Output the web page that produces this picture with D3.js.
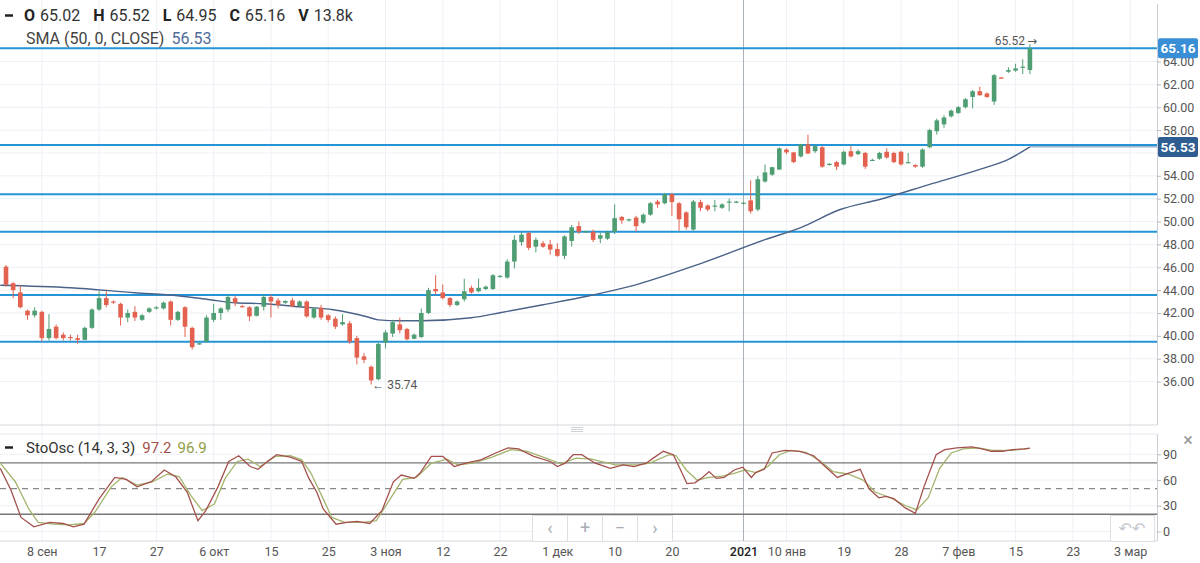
<!DOCTYPE html>
<html><head><meta charset="utf-8">
<script src="https://cdn.jsdelivr.net/npm/d3@7/dist/d3.min.js"></script>
<style>
html,body{margin:0;padding:0;background:#fff;}
svg{display:block;font-family:Roboto,"Open Sans",sans-serif;}
</style></head>
<body>
<svg id="c" width="1200" height="563"></svg>
<script>
// ---- DATA ----
const opens = [46.05,44.6,43.8,42.2,41.8,42.1,39.8,40.8,40.1,39.9,39.8,39.65,40.7,42.3,43.3,43.0,42.8,41.6,42.1,41.4,42.1,42.4,42.4,43.0,41.4,42.5,40.7,39.3,39.5,
41.4,42.0,42.3,43.3,42.6,42.5,41.75,42.55,43.4,43.1,42.9,43.1,42.6,43.0,41.6,42.45,41.8,41.5,41.0,41.1,39.8,38.2,37.3,36.2,39.4,40.2,41.0,40.6,39.75,
39.9,42.0,44.1,43.8,43.3,42.7,43.2,44.2,43.9,44.1,44.1,45.2,45.1,46.5,48.2,49.0,47.8,48.1,48.0,47.6,47.0,48.3,49.6,49.1,49.1,48.5,48.5,49.1,50.4,
50.1,50.35,49.9,50.6,51.75,51.6,52.4,51.6,50.8,49.3,51.7,51.4,51.3,51.2,51.65,51.7,51.6,51.85,51.05,53.5,54.1,54.55,56.3,56.05,55.7,56.75,56.15,56.5,55.0,55.2,
55.0,56.15,55.9,56.0,55.35,55.5,56.1,56.0,56.1,55.15,54.95,54.8,56.5,57.9,58.5,59.2,59.5,60.0,60.9,61.4,61.2,60.5,62.6,63.1,63.2,63.45,63.25];
const closes = [44.47,44.0,42.5,41.8,42.2,39.8,40.6,39.8,39.8,39.8,39.65,40.7,42.3,43.3,42.7,42.9,41.6,42.0,41.6,41.8,42.4,42.5,42.9,41.4,42.1,40.8,39.0,39.35,41.6,
42.0,42.4,43.4,42.9,42.55,41.7,42.55,43.4,43.0,42.7,43.05,42.6,43.0,41.7,42.4,41.6,41.4,40.8,41.2,39.5,38.1,37.9,36.1,39.3,40.3,41.2,40.5,39.7,40.1,
42.0,44.0,43.9,43.3,42.7,43.0,43.9,43.8,44.2,44.3,45.3,45.25,46.5,48.4,48.85,47.7,48.4,47.8,47.55,47.0,48.7,49.5,49.1,49.15,48.4,48.8,49.1,50.3,50.1,
50.2,49.6,50.6,51.6,51.5,52.4,51.7,50.2,49.5,51.75,51.2,51.05,51.4,51.5,51.75,51.75,51.65,50.9,53.7,54.3,54.75,56.4,56.05,55.2,56.75,55.95,56.6,54.8,55.05,54.8,
56.1,55.7,56.15,54.8,55.4,56.0,55.6,55.2,55.0,55.2,54.8,56.3,58.0,58.85,59.1,59.7,60.0,60.7,61.4,61.05,60.9,62.8,62.55,63.25,63.4,63.55,65.16];
const highs = [46.2,44.7,44.4,42.3,42.5,42.2,41.9,41.0,40.3,40.1,40.1,40.8,42.4,43.9,43.9,43.1,42.9,42.3,42.6,41.9,42.5,42.6,43.0,43.1,42.2,42.6,40.8,39.4,41.8,
42.8,42.5,43.6,43.5,42.7,42.6,42.6,43.6,43.6,43.3,43.1,43.3,43.1,43.1,42.45,42.7,41.9,41.7,41.9,41.3,40.0,38.5,37.4,39.4,40.5,41.4,41.6,40.7,40.2,
42.4,44.2,45.3,44.5,43.4,43.1,45.0,44.4,45.0,44.4,45.4,45.3,46.7,48.8,49.1,49.1,48.6,48.3,48.4,48.1,48.8,49.7,50.0,49.2,49.3,49.0,49.2,51.5,50.5,
50.25,50.5,50.7,51.7,51.9,52.5,52.5,51.7,50.9,51.9,51.9,51.5,51.9,51.6,52.0,51.8,51.7,53.6,54.0,55.0,54.8,56.5,56.4,56.1,56.8,57.6,56.7,56.6,55.1,55.3,
56.2,56.6,56.3,56.1,55.5,56.1,56.4,56.1,56.2,56.0,55.0,56.4,58.1,59.0,59.3,59.8,60.1,60.8,61.5,61.8,61.3,62.9,62.65,63.5,63.8,64.2,65.52];
const lows = [44.3,43.3,42.4,41.4,41.6,39.5,39.6,39.7,39.6,39.6,39.3,39.6,40.6,42.2,42.5,42.8,40.9,41.2,41.3,41.3,42.0,42.3,42.3,40.9,41.3,39.9,38.8,39.2,39.4,
41.2,41.4,42.1,42.6,42.5,41.3,41.7,42.2,41.6,42.4,42.8,42.5,42.5,41.6,41.5,41.4,41.2,40.6,40.9,39.3,37.5,37.6,35.74,36.1,38.9,39.9,40.2,39.6,39.7,
39.8,41.9,43.6,43.2,42.5,42.6,43.0,43.7,43.8,44.0,44.0,45.1,45.0,45.9,47.9,47.5,47.3,47.7,47.1,46.9,46.7,47.8,48.9,49.0,48.2,48.1,48.4,48.9,49.8,
50.0,49.1,49.8,50.5,51.2,51.5,50.5,49.2,49.3,49.2,50.9,50.9,50.9,51.1,50.9,51.6,51.5,50.7,50.9,53.4,54.0,54.5,55.9,55.1,55.6,55.9,56.0,54.7,54.9,54.5,
54.9,55.6,55.8,54.6,55.3,55.4,55.5,55.1,54.9,55.1,54.7,54.7,56.4,57.6,58.2,59.1,59.4,59.9,59.9,61.0,60.8,60.2,62.5,63.0,63.1,62.9,62.9];

// SMA(50): bar position / value
const smaIdx = [-0.8,9,18,24,28.5,32,36,41,45.7,48,50.4,52,55,58,65,69,75,81.5,87,97,106,111,116.5,122,129,136,140,143];
const smaVal = [44.43,44.21,43.77,43.51,43.16,42.89,42.81,42.54,42.28,42.02,41.67,41.40,41.32,41.32,41.58,42.02,42.72,43.51,44.30,46.32,48.42,49.47,51.05,51.93,53.25,54.56,55.44,56.53];

// Stochastic %K and %D: bar position / value
const kIdx = [-0.8,0.7,2.1,3.9,6.1,8.0,9.4,10.9,13.0,15.2,16.8,18.3,20.3,22.1,23.7,25.3,26.8,27.9,29.6,31.1,32.5,34.1,35.2,36.5,37.8,39.7,41.3,42.3,43.4,44.3,46.1,47.6,49.0,50.8,52.5,54.1,55.2,57.0,57.8,59.4,61.0,62.6,64.2,66.3,68.4,70.1,71.6,73.7,76.0,77.0,78.1,79.2,80.4,82.3,84.4,86.2,87.7,89.4,90.4,91.8,93.2,94.1,95.1,96.2,97.1,98.2,99.2,100.3,101.7,102.9,104.1,104.7,105.9,107.0,108.8,110.9,112.8,114.4,116.1,117.6,119.3,120.5,121.9,122.9,124.0,125.6,127.0,128.2,129.9,131.1,132.8,134.9,136.3,137.6,139.2,140.5,142.2,143.0];
const kVal = [73.7,48,16.4,5.4,10.5,9.3,5.4,8.5,38,63,60.7,52,58,71.7,63.8,46,12.5,24.3,52,81.6,88.3,75.7,72.5,81.6,89.5,86.7,81.6,61.9,46,26.3,8.5,10.5,11.7,9.3,24.3,57.9,65.8,61.9,67.8,87.5,87.5,75.7,79.6,83.6,91.5,97.4,96.2,87.5,81.6,75.7,79.6,89.5,89.5,79.6,73.7,77.6,75.7,79.6,85.5,93.5,89.5,73.7,55.9,56.7,61.9,69.8,61.9,63,71.7,74.9,63,68.6,72.5,91.5,94.6,93.5,88.3,75.7,63,67.8,72.5,50,39.3,40.9,38.2,27.5,21.2,52,89.5,95.4,97.4,98.6,96.2,93.5,93.5,95.4,96.2,97.2];
const dIdx = [-0.8,1.3,3.2,4.5,6.6,8.8,10.9,12.4,14.7,16.2,18.3,20.5,22.6,24.2,25.8,27.4,29.1,30.6,32.3,33.8,35.5,37.6,39.7,41.3,42.6,44.3,45.5,47.3,49.9,51.7,53.5,55.4,57.3,59.4,61.6,63.1,65.2,67.9,70.5,72.8,75.4,77.5,79.6,81.8,85.1,88.3,89.9,92.6,93.6,95.0,96.5,98.2,100.0,101.7,103.2,104.7,106.4,108.0,109.6,111.7,113.8,115.5,117.6,119.7,121.4,123.5,125.6,127.2,128.8,130.4,132.0,133.7,135.8,137.8,140.5,143.0];
const dVal = [79.6,58,26,10.5,8.5,7.7,9.3,22.4,52,63,54,58,67,63.8,42,24.3,32,61.9,81.6,84.4,75.7,87.5,88.3,83.6,67.8,38,16.4,10.5,10.5,12.5,36,60.7,63,79.6,84.4,77.6,79.6,86.7,95.4,93.5,85.5,78.8,85.5,84.4,77.6,77.6,79.6,89.5,88.3,71.7,59.9,63,64.6,67.8,71.7,68.6,75.7,89.5,94.6,92.3,81.6,69.8,67,59.9,46,39.3,30.3,25.1,39.3,73.7,91.5,96.2,97.4,94.6,94.6,96.9];

// horizontal levels drawn on the chart
const levels = [65.16,56.70,52.39,49.11,43.58,39.49];
const priceGrid = [36,38,40,42,44,46,48,50,52,54,56,58,60,62,64];
const priceTicks = [36,38,40,42,44,46,48,50,52,54,58,60,62,64];
const stochTicks = [0,30,60,90];
const xTickIdx = [5,13,21,29,37,45,53,61,69,77,85,93,103,109,117,125,133,141,149,157];
const xTickLabels = ["8 сен","17","27","6 окт","15","25","3 ноя","12","22","1 дек","10","20","2021","10 янв","19","28","7 фев","15","23","3 мар"];
const crossIdx = 103;
const lastClose = 65.16, lastSma = 56.53;

// ---- LAYOUT ----
const svg = d3.select("#c");
const plotR = 1157;
const mainTop = 0, mainBot = 425, stTop = 434, stBot = 541;
const x = d3.scaleLinear().domain([-0.84,160.75]).range([0,plotR]);
const y = d3.scaleLinear().domain([32.2,69.38]).range([mainBot,mainTop]);
const ys = d3.scaleLinear().domain([-11.1,114.8]).range([stBot,433]);

const defs = svg.append("defs");
defs.append("clipPath").attr("id","cm").append("rect").attr("x",0).attr("y",mainTop).attr("width",plotR).attr("height",mainBot-mainTop);
defs.append("clipPath").attr("id","cs").append("rect").attr("x",0).attr("y",stTop).attr("width",plotR).attr("height",stBot-stTop);

const gridC = "#edf0f5";
svg.append("g").selectAll("line").data(xTickIdx).join("line")
  .attr("x1",d=>x(d)).attr("x2",d=>x(d)).attr("y1",0).attr("y2",stBot)
  .attr("stroke",gridC).attr("stroke-width",1);
svg.append("g").selectAll("line").data(priceGrid).join("line")
  .attr("x1",0).attr("x2",plotR).attr("y1",d=>y(d)).attr("y2",d=>y(d))
  .attr("stroke",gridC);
svg.append("g").selectAll("line").data(stochTicks).join("line")
  .attr("x1",0).attr("x2",plotR).attr("y1",d=>ys(d)).attr("y2",d=>ys(d))
  .attr("stroke",gridC);

// panel borders
svg.append("line").attr("x1",0).attr("x2",plotR).attr("y1",mainBot).attr("y2",mainBot).attr("stroke","#d3d7de");
svg.append("line").attr("x1",0).attr("x2",plotR).attr("y1",stTop).attr("y2",stTop).attr("stroke","#e3e6eb");
svg.append("line").attr("x1",0).attr("x2",plotR).attr("y1",stBot).attr("y2",stBot).attr("stroke","#d3d7de");
svg.append("line").attr("x1",plotR+0.5).attr("x2",plotR+0.5).attr("y1",4).attr("y2",mainBot).attr("stroke","#c9ced6");
svg.append("line").attr("x1",plotR+0.5).attr("x2",plotR+0.5).attr("y1",stTop).attr("y2",stBot).attr("stroke","#c9ced6");
svg.append("g").selectAll("line").data([427.5,429.5,431.5]).join("line")
  .attr("x1",571).attr("x2",583).attr("y1",d=>d).attr("y2",d=>d).attr("stroke","#cfd3d9");

// crosshair vertical line
svg.append("line").attr("x1",x(crossIdx)).attr("x2",x(crossIdx)).attr("y1",0).attr("y2",stBot)
  .attr("stroke","#aab0b8").attr("stroke-width",1);

// ---- MAIN PANEL ----
const gm = svg.append("g").attr("clip-path","url(#cm)");
gm.selectAll("line.lv").data(levels).join("line").attr("class","lv")
  .attr("x1",0).attr("x2",plotR).attr("y1",d=>y(d)).attr("y2",d=>y(d))
  .attr("stroke","#2494d6").attr("stroke-width",2);

const smaPts = smaIdx.map((d,i)=>[d,smaVal[i]]);
gm.append("path").datum(smaPts)
  .attr("d",d3.line().x(d=>x(d[0])).y(d=>y(d[1])).curve(d3.curveMonotoneX))
  .attr("fill","none").attr("stroke","#4b6288").attr("stroke-width",1.4);
gm.append("line").attr("x1",x(smaIdx[smaIdx.length-1])).attr("x2",plotR)
  .attr("y1",y(lastSma)).attr("y2",y(lastSma)).attr("stroke","#6f8fb5").attr("stroke-width",1);

const bars = opens.map((o,i)=>({i,o,c:closes[i],h:highs[i],l:lows[i]}));
const up = "#4f9d72", dn = "#e2614f";
const cg = gm.append("g");
cg.selectAll("line").data(bars).join("line")
  .attr("x1",d=>x(d.i)).attr("x2",d=>x(d.i))
  .attr("y1",d=>y(Math.max(d.h,d.o,d.c))).attr("y2",d=>y(Math.min(d.l,d.o,d.c)))
  .attr("stroke",d=>d.c>=d.o?up:dn).attr("stroke-width",1);
cg.selectAll("rect").data(bars).join("rect")
  .attr("x",d=>x(d.i)-2.3).attr("width",4.6)
  .attr("y",d=>y(Math.max(d.o,d.c)))
  .attr("height",d=>Math.max(1.2,Math.abs(y(d.o)-y(d.c))))
  .attr("fill",d=>d.c>=d.o?up:dn);

const hiBar = bars.reduce((a,b)=>b.h>a.h?b:a);
const loBar = bars.reduce((a,b)=>b.l<a.l?b:a);
svg.append("text").attr("x",x(hiBar.i)-5).attr("y",y(hiBar.h)+1).attr("text-anchor","end")
  .attr("font-size",12).attr("fill","#555").text(d3.format(".2f")(hiBar.h));
svg.append("text").attr("x",x(hiBar.i)-3).attr("y",y(hiBar.h)+1).attr("font-size",12)
  .attr("font-family","DejaVu Sans").attr("fill","#555").text("→");
svg.append("text").attr("x",x(loBar.i)+1).attr("y",y(loBar.l)+4)
  .attr("font-size",12).attr("fill","#555").text("← "+d3.format(".2f")(loBar.l));

// price axis
const ya = svg.append("g").attr("transform",`translate(${plotR},0)`)
  .call(d3.axisRight(y).tickValues(priceTicks).tickFormat(d3.format(".2f")).tickSize(4).tickPadding(2));
ya.select(".domain").remove();
ya.selectAll("line").attr("stroke","#bbb");
ya.selectAll("text").attr("font-size",12.5).attr("fill","#555").attr("font-family","Roboto,sans-serif");

function tag(v,fill){
  const g = svg.append("g");
  g.append("rect").attr("x",plotR+1).attr("y",y(v)-10).attr("width",40).attr("height",20).attr("rx",2).attr("fill",fill);
  g.append("text").attr("x",plotR+21).attr("y",y(v)+5).attr("text-anchor","middle")
    .attr("font-size",13.5).attr("font-weight","bold").attr("fill","#fff").text(d3.format(".2f")(v));
}
tag(lastClose,"#3a8ed6");
tag(lastSma,"#2d5d91");

// ---- STOCH PANEL ----
const gs = svg.append("g").attr("clip-path","url(#cs)");
gs.selectAll("line.b").data([80,20]).join("line").attr("class","b")
  .attr("x1",0).attr("x2",plotR).attr("y1",d=>ys(d)).attr("y2",d=>ys(d))
  .attr("stroke","#777").attr("stroke-width",1.4);
gs.append("line").attr("x1",0).attr("x2",plotR).attr("y1",ys(50)).attr("y2",ys(50))
  .attr("stroke","#888").attr("stroke-width",1.4).attr("stroke-dasharray","6,5");
const sl = d3.line().x(d=>x(d[0])).y(d=>ys(d[1]));
gs.append("path").datum(dIdx.map((d,i)=>[d,dVal[i]])).attr("d",sl)
  .attr("fill","none").attr("stroke","#a3b46c").attr("stroke-width",1.3);
gs.append("path").datum(kIdx.map((d,i)=>[d,kVal[i]])).attr("d",sl)
  .attr("fill","none").attr("stroke","#a4514d").attr("stroke-width",1.3);

const sa = svg.append("g").attr("transform",`translate(${plotR},0)`)
  .call(d3.axisRight(ys).tickValues(stochTicks).tickSize(4).tickPadding(2));
sa.select(".domain").remove();
sa.selectAll("line").attr("stroke","#bbb");
sa.selectAll("text").attr("font-size",12.5).attr("fill","#555").attr("font-family","Roboto,sans-serif");

svg.append("text").attr("x",1188).attr("y",446).attr("text-anchor","middle").attr("font-size",18)
  .attr("fill","#999").text("×");

const nav = svg.append("g");
nav.append("rect").attr("x",532.5).attr("y",515.5).attr("width",140).attr("height",26)
  .attr("fill","#fff").attr("fill-opacity",0.85).attr("stroke","#dcdfe4");
nav.selectAll("line").data([1,2,3]).join("line")
  .attr("x1",d=>532.5+d*35).attr("x2",d=>532.5+d*35).attr("y1",515.5).attr("y2",541.5).attr("stroke","#dcdfe4");
nav.selectAll("text").data(["‹","+","−","›"]).join("text")
  .attr("x",(d,i)=>550+i*35).attr("y",534).attr("text-anchor","middle")
  .attr("font-size",18).attr("fill","#a8adb4").text(d=>d);
svg.append("rect").attr("x",1110.5).attr("y",515.5).attr("width",44).attr("height",26)
  .attr("fill","#fff").attr("fill-opacity",0.85).attr("stroke","#dcdfe4");
svg.append("text").attr("x",1132).attr("y",534).attr("text-anchor","middle").attr("font-size",16)
  .attr("fill","#c3c7cc").attr("font-family","DejaVu Sans").text("↶↶");

// ---- X AXIS ----
const xa = svg.append("g").attr("transform",`translate(0,${stBot})`)
  .call(d3.axisBottom(x).tickValues(xTickIdx).tickFormat((d,i)=>xTickLabels[i]).tickSize(0).tickPadding(6));
xa.select(".domain").remove();
xa.selectAll("text").attr("font-size",12.5).attr("fill","#555").attr("font-family","Roboto,sans-serif")
  .filter(d=>d===crossIdx).attr("fill","#222").attr("font-weight","500");

// ---- LEGENDS ----
svg.append("line").attr("x1",5).attr("x2",13).attr("y1",15.5).attr("y2",15.5).attr("stroke","#222").attr("stroke-width",2.5);
const lg = svg.append("text").attr("x",24).attr("y",21).attr("font-size",16).attr("fill","#333");
const ohlc = [["O","65.02"],["H","65.52"],["L","64.95"],["C","65.16"],["V","13.8k"]];
ohlc.forEach((p,i)=>{
  lg.append("tspan").attr("dx",i?13:0).attr("font-weight","bold").attr("fill","#222").text(p[0]);
  lg.append("tspan").attr("dx",5).text(p[1]);
});
const l2 = svg.append("text").attr("x",26).attr("y",44).attr("font-size",16).attr("fill","#444");
l2.append("tspan").text("SMA (50, 0, CLOSE)");
l2.append("tspan").attr("dx",7).attr("fill","#4f6b99").text("56.53");

svg.append("line").attr("x1",5).attr("x2",13).attr("y1",447.5).attr("y2",447.5).attr("stroke","#222").attr("stroke-width",2.5);
const l3 = svg.append("text").attr("x",26).attr("y",453).attr("font-size",15).attr("fill","#333");
l3.append("tspan").text("StoOsc (14, 3, 3)");
l3.append("tspan").attr("dx",7).attr("fill","#a4514d").text("97.2");
l3.append("tspan").attr("dx",6).attr("fill","#8f9e45").text("96.9");
</script>
</body></html>
